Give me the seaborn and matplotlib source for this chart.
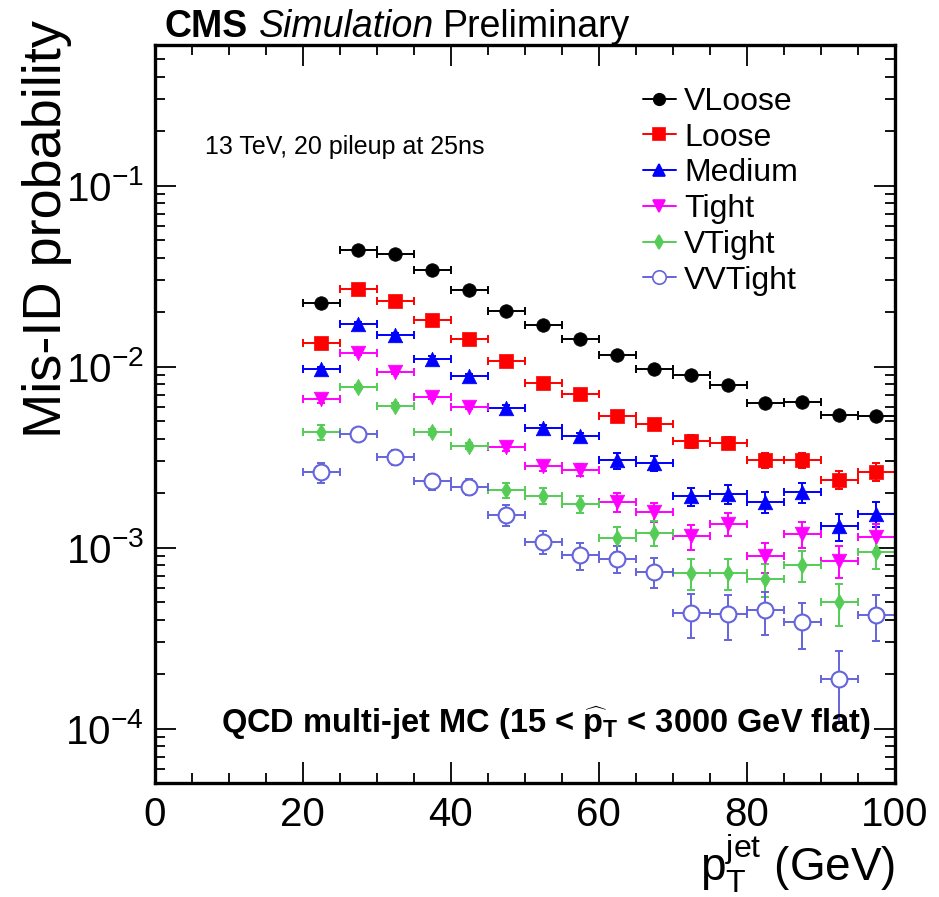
import matplotlib
matplotlib.use("Agg")
import matplotlib.pyplot as plt
import seaborn as sns
import numpy as np
from matplotlib.lines import Line2D
from matplotlib.ticker import LogLocator, MultipleLocator, NullFormatter

# ---------------- data ----------------
pt = [22.5, 27.5, 32.5, 37.5, 42.5, 47.5, 52.5, 57.5,
      62.5, 67.5, 72.5, 77.5, 82.5, 87.5, 92.5, 97.5]
bin_half = 2.5

vloose = [0.0224, 0.0439, 0.0417, 0.0340, 0.0264, 0.0202, 0.0169, 0.0142,
          0.01157, 0.00969, 0.00898, 0.0079, 0.00629, 0.00635, 0.00543, 0.00534]
vloose_err = [0.0003, 0.0004, 0.0004, 0.0003, 0.0003, 0.0003, 0.0002, 0.0002,
              0.0002, 0.0002, 0.0002, 0.0002, 0.0002, 0.0002, 0.0002, 0.0002]

loose = [0.01359, 0.0267, 0.0232, 0.0180, 0.01413, 0.01069, 0.00815, 0.00705,
         0.00533, 0.00484, 0.00387, 0.0038, 0.00304, 0.00304, 0.00237, 0.00263]
loose_err = [0.0003, 0.0004, 0.0004, 0.0003, 0.0003, 0.0003, 0.0003, 0.0003,
             0.0003, 0.0003, 0.0003, 0.0003, 0.0003, 0.0003, 0.00027, 0.0003]

medium = [0.00965, 0.0173, 0.01496, 0.01109, 0.00889, 0.00593, 0.0046, 0.00414,
          0.00303, 0.00293, 0.00192, 0.00199, 0.00179, 0.00202, 0.00131, 0.00154]
medium_err = [0.0003, 0.0004, 0.0003, 0.0003, 0.0002, 0.0002, 0.00018, 0.00016,
              0.0003, 0.00029, 0.00022, 0.00024, 0.00023, 0.00026, 0.00022, 0.00024]

tight = [0.00659, 0.01197, 0.00935, 0.00682, 0.00596, 0.00361, 0.00283, 0.00269,
         0.00179, 0.00158, 0.001156, 0.001355, 0.000896, 0.00119, 0.000848, 0.001143]
tight_err = [0.0003, 0.0003, 0.0003, 0.0002, 0.00011, 0.00018, 0.00018, 0.0002,
             0.00021, 0.00019, 0.00018, 0.0002, 0.00017, 0.0002, 0.00017, 0.0002]

vtight = [0.00434, 0.00768, 0.00608, 0.00438, 0.00365, 0.00207, 0.00194, 0.00174,
          0.001125, 0.00121, 0.00072, 0.000722, 0.000675, 0.000803, 0.0005, 0.000948]
vtight_err = [0.00043, 0.0002, 0.0002, 0.00017, 0.00014, 0.0002, 0.0002, 0.00019,
              0.00018, 0.00019, 0.00014, 0.00014, 0.00014, 0.00016, 0.00013, 0.00019]

vvtight = [0.00261, 0.00423, 0.00315, 0.00232, 0.00217, 0.00151, 0.00108, 0.000907,
           0.00087, 0.000738, 0.000437, 0.000429, 0.00045, 0.000386, 0.000188, 0.000424]
vvtight_err = [0.00034, 0.00037, 0.0003, 0.00024, 0.00022, 0.0002, 0.00016, 0.00015,
               0.00015, 0.00014, 0.00012, 0.00012, 0.00012, 0.00011, 0.00008, 0.00012]

labels = ["VLoose", "Loose", "Medium", "Tight", "VTight", "VVTight"]

# ---------------- style ----------------
sns.set_style("ticks")
plt.rcParams["font.family"] = ["Liberation Sans", "DejaVu Sans"]
plt.rcParams["mathtext.fontset"] = "custom"
plt.rcParams["mathtext.rm"] = "Liberation Sans"
plt.rcParams["mathtext.it"] = "Liberation Sans:italic"
plt.rcParams["mathtext.bf"] = "Liberation Sans:bold"
for k in ["text.color", "axes.labelcolor", "xtick.color", "ytick.color", "axes.edgecolor"]:
    plt.rcParams[k] = "black"

fig = plt.figure(figsize=(9.39, 8.97), dpi=100)
ax = fig.add_axes([0.165, 0.127, 0.788, 0.823])

series = [
    (vloose, vloose_err, "black", "o", 95, "black", "black"),
    (loose, loose_err, "#ff0000", "s", 105, "#ff0000", "#ff0000"),
    (medium, medium_err, "#0000ff", "^", 110, "#0000ff", "#0000ff"),
    (tight, tight_err, "#ff00ff", "v", 110, "#ff00ff", "#ff00ff"),
    (vtight, vtight_err, "#55cc55", "d", 70, "#55cc55", "#55cc55"),
    (vvtight, vvtight_err, "#6464dc", "o", 130, "white", "#6464dc"),
]

handles = []
for (vals, errs, col, mk, size, fc, ec), lab in zip(series, labels):
    ax.errorbar(pt, vals, xerr=bin_half, yerr=errs, fmt="none", ecolor=col,
                elinewidth=1.4, capsize=3, capthick=1.4, zorder=2)
    sns.scatterplot(x=pt, y=vals, ax=ax, marker=mk, s=size, facecolor=fc,
                    edgecolor=ec, linewidth=1.5 if fc == "white" else 0.5,
                    zorder=3, legend=False)
    handles.append(Line2D([], [], color=col, marker=mk, linestyle="-", linewidth=1.4,
                          markersize=np.sqrt(size) * 0.85, markerfacecolor=fc,
                          markeredgecolor=ec, markeredgewidth=1.2))

ax.set_yscale("log")
ax.set_xlim(0, 100)
ax.set_ylim(5e-5, 0.6)

ax.xaxis.set_major_locator(MultipleLocator(20))
ax.xaxis.set_minor_locator(MultipleLocator(5))
ax.yaxis.set_major_locator(LogLocator(base=10, numticks=20))
ax.yaxis.set_minor_locator(LogLocator(base=10, subs=np.arange(2, 10), numticks=20))
ax.yaxis.set_minor_formatter(NullFormatter())

ax.tick_params(which="both", direction="in", top=True, right=True, width=1.3,
               labelsize=29, color="black", labelcolor="black")
ax.tick_params(which="major", length=15)
ax.tick_params(which="minor", length=7)
ax.tick_params(axis="x", pad=9)
ax.tick_params(axis="y", pad=8)
for sp in ax.spines.values():
    sp.set_linewidth(2.4)
    sp.set_color("black")

ax.set_xlabel(r"$\mathregular{p_{T}^{jet}}$ (GeV)", fontsize=33, loc="right", labelpad=-1)
ax.set_ylabel("Mis-ID probability", fontsize=39, loc="top")
ax.yaxis.set_label_coords(-0.112, 1.034)

leg = ax.legend(handles, labels, loc="upper left", bbox_to_anchor=(0.659, 0.943),
                fontsize=23, frameon=False, handlelength=1.05, handletextpad=0.25,
                labelspacing=0.18, borderaxespad=0, borderpad=0)

ax.text(0.068, 0.862, "13 TeV, 20 pileup at 25ns", transform=ax.transAxes,
        fontsize=18, ha="left", va="center")
ax.text(0.528, 0.081,
        r"QCD multi-jet MC (15 < $\mathbf{\widehat{p}_{T}}$ < 3000 GeV flat)",
        transform=ax.transAxes, fontsize=23.5, fontweight="bold", ha="center", va="center")

t1 = fig.text(165 / 939, 1 - 45 / 897, "CMS", fontsize=27, fontweight="bold",
              ha="left", va="bottom")
t2 = ax.annotate("Simulation", xy=(1, 0), xycoords=t1, xytext=(8, 0),
                 textcoords="offset points", fontsize=27, style="italic",
                 ha="left", va="bottom")
ax.annotate("Preliminary", xy=(1, 0), xycoords=t2, xytext=(6, 0),
            textcoords="offset points", fontsize=27, ha="left", va="bottom")

fig.savefig("out.png", dpi=100, facecolor="white")
